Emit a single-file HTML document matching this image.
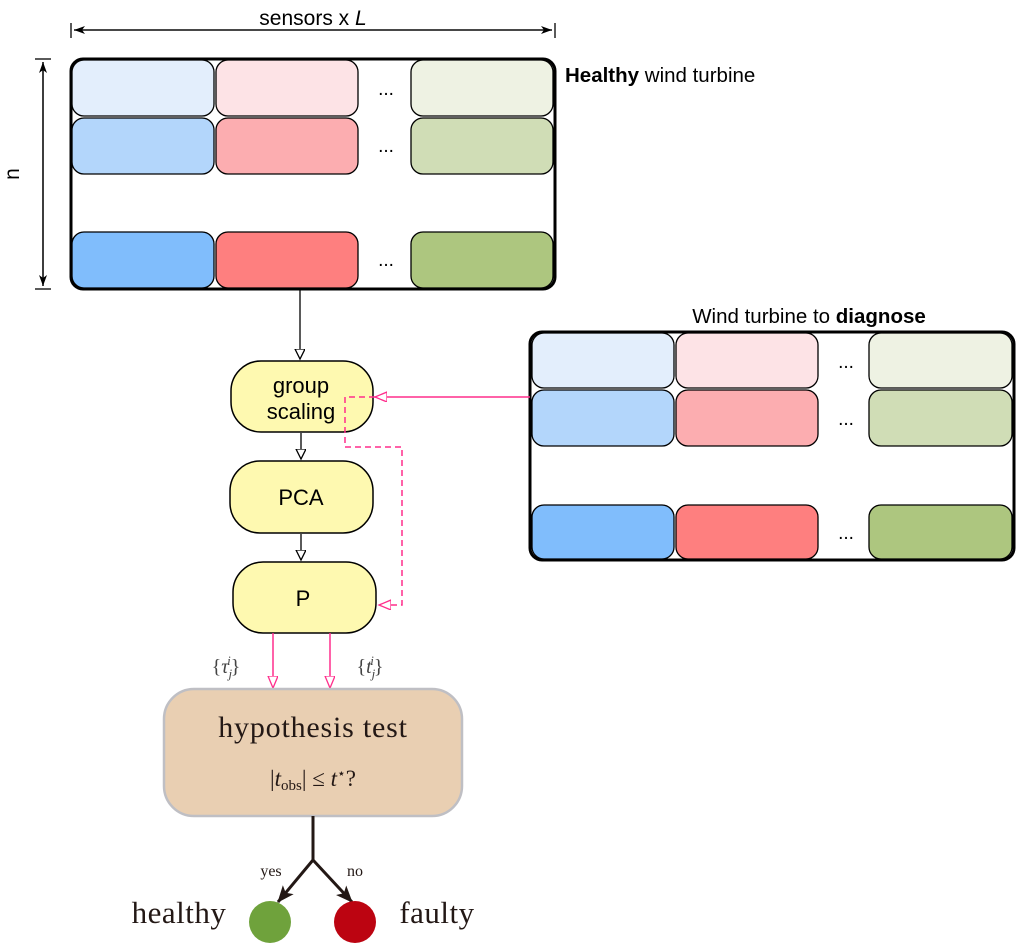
<!DOCTYPE html>
<html><head><style>body{margin:0;background:#fff}svg{display:block}</style></head><body>
<svg width="1024" height="951" viewBox="0 0 1024 951" xmlns="http://www.w3.org/2000/svg" font-family="Liberation Sans, sans-serif">
<defs>
<marker id="ob" markerWidth="12" markerHeight="12" refX="10" refY="5" orient="auto" markerUnits="userSpaceOnUse"><path d="M0,0 L10,5 L0,10 Z" fill="#fff" stroke="#000" stroke-width="1.3"/></marker>
<marker id="op" markerWidth="14" markerHeight="12" refX="12" refY="5" orient="auto" markerUnits="userSpaceOnUse"><path d="M0,0 L12,5 L0,10 Z" fill="#fff" stroke="#ff2e8c" stroke-width="1.3"/></marker>
<marker id="dim" markerWidth="12" markerHeight="10" refX="11" refY="4" orient="auto" markerUnits="userSpaceOnUse"><path d="M0,0 L11,4 L0,8 L3,4 Z" fill="#000"/></marker>
<marker id="bk" markerWidth="20" markerHeight="16" refX="16" refY="7" orient="auto" markerUnits="userSpaceOnUse"><path d="M0,0 L17,7 L0,14 L4,7 Z" fill="#231815"/></marker>
</defs>
<line x1="74" y1="30" x2="552" y2="30" stroke="#000" stroke-width="1.3" marker-end="url(#dim)"/>
<line x1="552" y1="30" x2="74" y2="30" stroke="#000" stroke-width="1.3" marker-end="url(#dim)"/>
<line x1="71" y1="23" x2="71" y2="38" stroke="#000" stroke-width="1.3"/>
<line x1="555" y1="23" x2="555" y2="38" stroke="#000" stroke-width="1.3"/>
<text x="313" y="25" font-size="21" text-anchor="middle">sensors x <tspan font-style="italic">L</tspan></text>
<line x1="43" y1="62" x2="43" y2="286" stroke="#000" stroke-width="1.3" marker-end="url(#dim)"/>
<line x1="43" y1="286" x2="43" y2="62" stroke="#000" stroke-width="1.3" marker-end="url(#dim)"/>
<line x1="35" y1="59" x2="51" y2="59" stroke="#000" stroke-width="1.3"/>
<line x1="35" y1="289" x2="51" y2="289" stroke="#000" stroke-width="1.3"/>
<text x="19" y="174" font-size="21" text-anchor="middle" transform="rotate(-90 19 174)">n</text>

<g stroke="#000" stroke-width="1.3">
<rect x="72" y="60" width="142" height="56" rx="12" fill="#e3eefc"/>
<rect x="216" y="60" width="142" height="56" rx="12" fill="#fde3e6"/>
<rect x="411" y="60" width="142" height="56" rx="12" fill="#eef2e3"/>
<rect x="72" y="118" width="142" height="56" rx="12" fill="#b3d6fb"/>
<rect x="216" y="118" width="142" height="56" rx="12" fill="#fcadb0"/>
<rect x="411" y="118" width="142" height="56" rx="12" fill="#d0ddb6"/>
<rect x="72" y="232" width="142" height="56" rx="12" fill="#80bdfc"/>
<rect x="216" y="232" width="142" height="56" rx="12" fill="#fe7f7f"/>
<rect x="411" y="232" width="142" height="56" rx="12" fill="#adc67f"/>
</g>
<rect x="71" y="59" width="484" height="230" rx="12" fill="none" stroke="#000" stroke-width="3"/>
<g font-size="19" text-anchor="middle"><text x="386" y="95">...</text><text x="386" y="152">...</text><text x="386" y="266">...</text></g>
<text x="565" y="82" font-size="20.5"><tspan font-weight="bold">Healthy</tspan> wind turbine</text>

<g stroke="#000" stroke-width="1.3">
<rect x="532" y="333" width="142" height="55" rx="12" fill="#e3eefc"/>
<rect x="676" y="333" width="142" height="55" rx="12" fill="#fde3e6"/>
<rect x="869" y="333" width="143" height="55" rx="12" fill="#eef2e3"/>
<rect x="532" y="390" width="142" height="56" rx="12" fill="#b3d6fb"/>
<rect x="676" y="390" width="142" height="56" rx="12" fill="#fcadb0"/>
<rect x="869" y="390" width="143" height="56" rx="12" fill="#d0ddb6"/>
<rect x="532" y="505" width="142" height="54" rx="12" fill="#80bdfc"/>
<rect x="676" y="505" width="142" height="54" rx="12" fill="#fe7f7f"/>
<rect x="869" y="505" width="143" height="54" rx="12" fill="#adc67f"/>
</g>
<rect x="530" y="332" width="484" height="228" rx="12" fill="none" stroke="#000" stroke-width="3"/>
<g font-size="19" text-anchor="middle"><text x="846" y="368">...</text><text x="846" y="425">...</text><text x="846" y="539">...</text></g>
<text x="809" y="323" font-size="20.5" text-anchor="middle">Wind turbine to <tspan font-weight="bold">diagnose</tspan></text>

<line x1="300" y1="290" x2="300" y2="359" stroke="#000" stroke-width="1.3" marker-end="url(#ob)"/>
<line x1="301" y1="433" x2="301" y2="459" stroke="#000" stroke-width="1.3" marker-end="url(#ob)"/>
<line x1="301" y1="534" x2="301" y2="560" stroke="#000" stroke-width="1.3" marker-end="url(#ob)"/>

<g stroke="#000" stroke-width="1.5" fill="#fef9b0">
<rect x="231" y="361" width="142" height="71" rx="30"/>
<rect x="230" y="461" width="143" height="72" rx="30"/>
<rect x="233" y="562" width="143" height="71" rx="30"/>
</g>
<g font-size="22" text-anchor="middle"><text x="301" y="393">group</text><text x="301" y="419">scaling</text><text x="301" y="505">PCA</text><text x="303" y="606">P</text></g>

<line x1="530" y1="397" x2="375" y2="397" stroke="#ff2e8c" stroke-width="1.5" marker-end="url(#op)"/>
<polyline points="375,397 345,397 345,447 402,447 402,605 379,605" fill="none" stroke="#ff2e8c" stroke-width="1.5" stroke-dasharray="6,4" marker-end="url(#op)"/>
<line x1="273" y1="633" x2="273" y2="688" stroke="#ff2e8c" stroke-width="1.5" marker-end="url(#op)"/>
<line x1="330" y1="633" x2="330" y2="688" stroke="#ff2e8c" stroke-width="1.5" marker-end="url(#op)"/>
<g font-family="Liberation Serif, serif" font-size="20" fill="#444" text-anchor="middle">
<text x="226" y="673">{<tspan font-style="italic">τ</tspan><tspan font-size="13" font-style="italic" dy="5">j</tspan><tspan font-size="13" font-style="italic" dx="-5" dy="-13">i</tspan><tspan dy="8">}</tspan></text>
<text x="370" y="673">{<tspan font-style="italic">t</tspan><tspan font-size="13" font-style="italic" dy="5">j</tspan><tspan font-size="13" font-style="italic" dx="-5" dy="-13">i</tspan><tspan dy="8">}</tspan></text>
</g>

<rect x="164" y="689" width="298" height="127" rx="30" fill="#e9cfb2" stroke="#bfbfc4" stroke-width="2.5"/>
<g font-family="Liberation Serif, serif" fill="#231815" text-anchor="middle">
<text x="313" y="737" font-size="30" letter-spacing="0.8">hypothesis test</text>
<text x="313" y="786" font-size="23">|<tspan font-style="italic">t</tspan><tspan font-size="15" dy="4">obs</tspan><tspan dy="-4">| ≤ </tspan><tspan font-style="italic">t</tspan><tspan font-size="14" dy="-8">⋆</tspan><tspan dy="8">?</tspan></text>
</g>
<polyline points="313,816 313,860" fill="none" stroke="#231815" stroke-width="3"/>
<line x1="313" y1="860" x2="278" y2="902" stroke="#231815" stroke-width="3" marker-end="url(#bk)"/>
<line x1="313" y1="860" x2="352" y2="902" stroke="#231815" stroke-width="3" marker-end="url(#bk)"/>
<circle cx="270" cy="922" r="21" fill="#6fa23c"/>
<circle cx="355" cy="922" r="21" fill="#bc0411"/>
<g font-family="Liberation Serif, serif" fill="#231815">
<text x="271" y="876" font-size="16" text-anchor="middle">yes</text>
<text x="355" y="876" font-size="16" text-anchor="middle">no</text>
<text x="179" y="923" font-size="31" text-anchor="middle" letter-spacing="0.5">healthy</text>
<text x="437" y="923" font-size="31" text-anchor="middle" letter-spacing="0.5">faulty</text>
</g>
</svg>
</body></html>
